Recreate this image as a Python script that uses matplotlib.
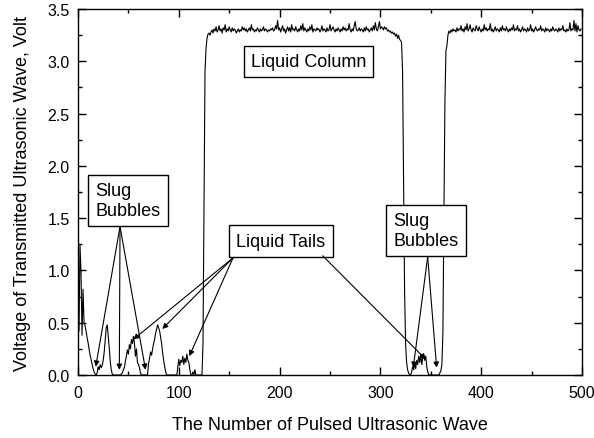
import matplotlib
matplotlib.use('Agg')
import matplotlib.pyplot as plt
import numpy as np

plt.rcParams['font.family'] = ['Liberation Sans', 'DejaVu Sans']

# transmitted voltage, one value per pulse
slug_region = [
    1.24, 0.42, 1.24, 0.98, 0.38, 0.82, 0.50, 0.47, 0.42, 0.36,
    0.31, 0.25, 0.19, 0.15, 0.10, 0.06, 0.03, 0.01, 0.00, 0.02,
    0.08, 0.05, 0.10, 0.07, 0.09, 0.14, 0.22, 0.34, 0.45, 0.48,
    0.37, 0.26, 0.13, 0.05, 0.01, 0.00, 0.00, 0.00, 0.00, 0.00,
    0.00, 0.00, 0.00, 0.01, 0.02, 0.05, 0.07, 0.13, 0.18, 0.24,
    0.20, 0.29, 0.25, 0.34, 0.30, 0.37, 0.30, 0.18, 0.25, 0.12,
    0.10, 0.07, 0.02, 0.00, 0.00, 0.00, 0.00, 0.00, 0.00, 0.00,
    0.11, 0.16, 0.22, 0.19, 0.25, 0.30, 0.34, 0.40, 0.44, 0.48,
    0.45, 0.42, 0.36, 0.30, 0.21, 0.14, 0.08, 0.03, 0.00, 0.00,
    0.00, 0.00, 0.00, 0.00, 0.00, 0.00, 0.00, 0.00, 0.00, 0.07,
    0.15, 0.09, 0.14, 0.12, 0.18, 0.10, 0.16, 0.12, 0.20, 0.14,
    0.12, 0.05, 0.00, 0.00, 0.03, 0.00, 0.05, 0.00, 0.00, 0.00,
    0.00, 0.00, 0.00, 0.00, 0.30, 1.60, 2.90, 3.12, 3.22,
]
column_1 = [
    3.26, 3.27, 3.25, 3.28, 3.30, 3.27, 3.31, 3.29, 3.33, 3.28,
    3.30, 3.34, 3.29, 3.31, 3.27, 3.32, 3.30, 3.35, 3.28, 3.31,
    3.29, 3.33, 3.30, 3.28, 3.32, 3.29, 3.31, 3.30, 3.27, 3.29,
    3.31, 3.28, 3.30, 3.29, 3.33, 3.30, 3.32, 3.29, 3.31, 3.28,
    3.30, 3.32, 3.29, 3.35, 3.30, 3.31, 3.28, 3.30, 3.29, 3.32,
    3.30, 3.28, 3.31, 3.29, 3.30, 3.33, 3.29, 3.31, 3.30, 3.28,
    3.30, 3.29, 3.31, 3.30, 3.32, 3.29, 3.30, 3.34, 3.31, 3.39,
    3.30, 3.32, 3.28, 3.31, 3.34, 3.29, 3.31, 3.27, 3.30, 3.33,
    3.29, 3.32, 3.28, 3.35, 3.30, 3.31, 3.29, 3.33, 3.30, 3.28,
    3.31, 3.29, 3.34, 3.30, 3.36, 3.29, 3.32, 3.30, 3.28, 3.31,
    3.29, 3.33, 3.30, 3.35, 3.28, 3.31, 3.30, 3.29, 3.32, 3.30,
    3.31, 3.28, 3.30, 3.34, 3.29, 3.31, 3.30, 3.28, 3.32, 3.29,
    3.30, 3.35, 3.29, 3.31, 3.33, 3.30, 3.28, 3.31, 3.29, 3.32,
    3.30, 3.28, 3.31, 3.29, 3.33, 3.30, 3.32, 3.29, 3.31, 3.30,
    3.36, 3.30, 3.28, 3.31, 3.29, 3.34, 3.38, 3.31, 3.29, 3.30,
    3.32, 3.29, 3.31, 3.30, 3.28, 3.32, 3.29, 3.33, 3.30, 3.31,
    3.28, 3.30, 3.32, 3.29, 3.34, 3.30, 3.37, 3.31, 3.29, 3.33,
    3.38, 3.31, 3.33, 3.32, 3.30, 3.33, 3.31, 3.32, 3.29, 3.30,
    3.28, 3.29, 3.27, 3.28, 3.26, 3.27, 3.24, 3.26, 3.22, 3.25,
    3.21, 3.20, 3.18,
]
bubble_region = [
    2.90, 1.80, 0.80, 0.30, 0.12, 0.05, 0.02, 0.00, 0.00, 0.03,
    0.08, 0.05, 0.12, 0.06, 0.14, 0.10, 0.18, 0.12, 0.20, 0.10,
    0.16, 0.20, 0.14, 0.18, 0.08, 0.03, 0.00, 0.00, 0.00, 0.00,
    0.00, 0.00, 0.00, 0.00, 0.00, 0.00, 0.00, 0.02, 0.04, 0.10,
    0.40, 1.50, 2.60, 3.10, 3.15, 3.25,
]
column_2 = [
    3.29, 3.27, 3.30, 3.28, 3.31, 3.29, 3.30, 3.28, 3.32, 3.29,
    3.31, 3.30, 3.34, 3.29, 3.31, 3.28, 3.33, 3.30, 3.36, 3.29,
    3.31, 3.35, 3.30, 3.28, 3.32, 3.30, 3.29, 3.34, 3.31, 3.29,
    3.33, 3.30, 3.28, 3.31, 3.29, 3.35, 3.30, 3.32, 3.29, 3.31,
    3.30, 3.36, 3.29, 3.31, 3.28, 3.30, 3.33, 3.29, 3.31, 3.30,
    3.28, 3.32, 3.29, 3.34, 3.30, 3.31, 3.29, 3.33, 3.30, 3.28,
    3.31, 3.29, 3.32, 3.30, 3.35, 3.29, 3.31, 3.30, 3.34, 3.29,
    3.31, 3.28, 3.30, 3.33, 3.29, 3.31, 3.30, 3.28, 3.32, 3.29,
    3.30, 3.35, 3.29, 3.31, 3.28, 3.30, 3.33, 3.30, 3.29, 3.31,
    3.30, 3.34, 3.29, 3.31, 3.30, 3.28, 3.32, 3.29, 3.31, 3.30,
    3.28, 3.31, 3.29, 3.33, 3.30, 3.29, 3.31, 3.30, 3.28, 3.32,
    3.29, 3.31, 3.30, 3.34, 3.29, 3.30, 3.28, 3.31, 3.29, 3.30,
    3.37, 3.29, 3.31, 3.30, 3.39, 3.29, 3.36, 3.28, 3.34, 3.30,
    3.29, 3.31,
]

voltage = np.array(slug_region + column_1 + bubble_region + column_2)
pulse = np.arange(len(voltage))

# annotation boxes: label, text position, arrow start, arrow tips
notes = [
    ('Slug\nBubbles', (49.6, 1.67), (41.7, 1.42),
     [(17.6, 0.08), (41.0, 0.05), (67.0, 0.05)]),
    ('Liquid Tails', (201.4, 1.28), (153.8, 1.12),
     [(54.9, 0.34), (83.6, 0.44), (110.4, 0.18)]),
    ('Slug\nBubbles', (345.2, 1.38), (346.9, 1.13),
     [(332.6, 0.07), (355.8, 0.07)]),
]

fig = plt.figure(figsize=(5.94, 4.39), dpi=100)
ax = fig.add_axes([0.1313, 0.1435, 0.8485, 0.8337])

ax.plot(pulse, voltage, color='black', lw=0.8)

ax.set_xlim(0, 500)
ax.set_ylim(0, 3.5)
ax.set_xticks(np.arange(0, 501, 100))
ax.set_xticks(np.arange(50, 500, 100), minor=True)
ax.set_yticks(np.arange(0, 3.51, 0.5))
ax.set_yticks(np.arange(0.25, 3.5, 0.5), minor=True)
ax.set_yticklabels(['%.1f' % v for v in np.arange(0, 3.51, 0.5)])
ax.tick_params(which='both', direction='in', top=True, right=True,
               labelsize=11.5, width=1)
ax.tick_params(which='major', length=5.5)
ax.tick_params(which='minor', length=3)
ax.tick_params(axis='x', pad=7)
ax.tick_params(axis='y', pad=6)
for s in ax.spines.values():
    s.set_linewidth(1)

ax.set_xlabel('The Number of Pulsed Ultrasonic Wave', fontsize=13, labelpad=12)
ax.set_ylabel('Voltage of Transmitted Ultrasonic Wave, Volt', fontsize=13,
              labelpad=12)

box = dict(boxstyle='square,pad=0.4', facecolor='white', edgecolor='black',
           lw=1)
ax.text(228.7, 3.0, 'Liquid Column', fontsize=13, ha='center', va='center',
        bbox=box)

arrow = dict(arrowstyle='-|>', color='black', lw=0.8, mutation_scale=8,
             shrinkA=0, shrinkB=0)
for label, pos, start, tips in notes:
    ax.text(pos[0], pos[1], label, fontsize=13, ha='center', va='center',
            multialignment='left', bbox=box, linespacing=1.2)
    for tip in tips:
        ax.annotate('', xy=tip, xytext=start, arrowprops=arrow)
ax.annotate('', xy=(345.0, 0.15), xytext=(242.8, 1.14), arrowprops=arrow)

plt.savefig('out.png', dpi=100)
